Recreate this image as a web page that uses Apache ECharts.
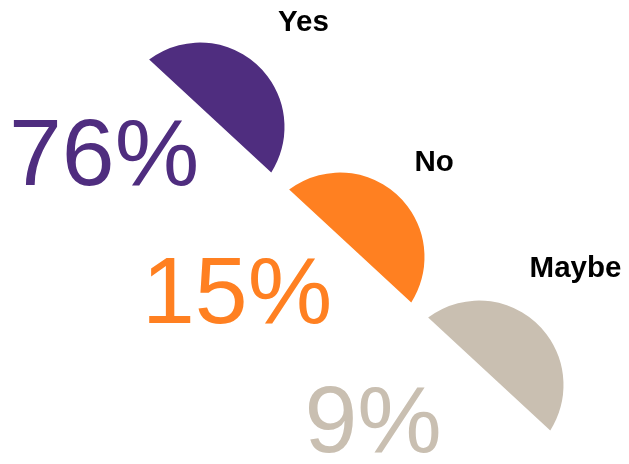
<!DOCTYPE html>
<html>
<head>
<meta charset="utf-8">
<script src="https://cdn.jsdelivr.net/npm/echarts@6/dist/echarts.min.js"></script>
<style>
  html, body { margin: 0; padding: 0; background: #fff; }
  #main { width: 629px; height: 464px; }
</style>
</head>
<body>
<div id="main"></div>
<script>
// answers and their share
var answers = ['Yes', 'No', 'Maybe'];
var shares = [76, 15, 9];
var colors = ['#4F2D7F', '#FF8021', '#C9BFB1'];

// layout: circle each segment is cut from, and where the texts go
var centers = [[200, 127], [340, 257], [479, 385]];
var radius = 84.5;
var arcFrom = 127, arcTo = -32.5; // degrees, counter-clockwise from 3 o'clock
var namePos = [[278, 23], [414.5, 163], [529.6, 269]];
var pctPos = [[9, 159], [142, 297], [304.5, 426]];

var chart = echarts.init(document.getElementById('main'), null, { renderer: 'canvas' });

// each answer is drawn as a circular segment (arc closed by a straight chord)
function renderSegment(params, api) {
    var i = params.dataIndex;
    var c = centers[i];
    var a1 = arcFrom * Math.PI / 180, a2 = arcTo * Math.PI / 180;
    var x1 = c[0] + radius * Math.cos(a1), y1 = c[1] - radius * Math.sin(a1);
    var x2 = c[0] + radius * Math.cos(a2), y2 = c[1] - radius * Math.sin(a2);
    return {
        type: 'path',
        shape: {
            pathData: 'M' + x1 + ' ' + y1 + ' A' + radius + ' ' + radius + ' 0 0 1 ' + x2 + ' ' + y2 + ' Z'
        },
        style: { fill: colors[i] }
    };
}

var graphic = [];
for (var i = 0; i < answers.length; i++) {
    graphic.push({
        type: 'text',
        x: namePos[i][0],
        y: namePos[i][1],
        style: {
            text: answers[i],
            font: 'bold 29.5px "Liberation Sans", Arial, sans-serif',
            fill: '#000',
            textAlign: 'left',
            textVerticalAlign: 'middle'
        }
    });
    graphic.push({
        type: 'text',
        x: pctPos[i][0],
        y: pctPos[i][1],
        style: {
            text: shares[i] + '%',
            font: '95px "Liberation Sans", Arial, sans-serif',
            fill: colors[i],
            textAlign: 'left',
            textVerticalAlign: 'middle'
        }
    });
}

chart.setOption({
    backgroundColor: '#fff',
    animation: false,
    series: [{
        type: 'custom',
        coordinateSystem: 'none',
        silent: true,
        renderItem: renderSegment,
        data: answers.map(function (name, i) { return { name: name, value: shares[i] }; })
    }],
    graphic: graphic
});
</script>
</body>
</html>
